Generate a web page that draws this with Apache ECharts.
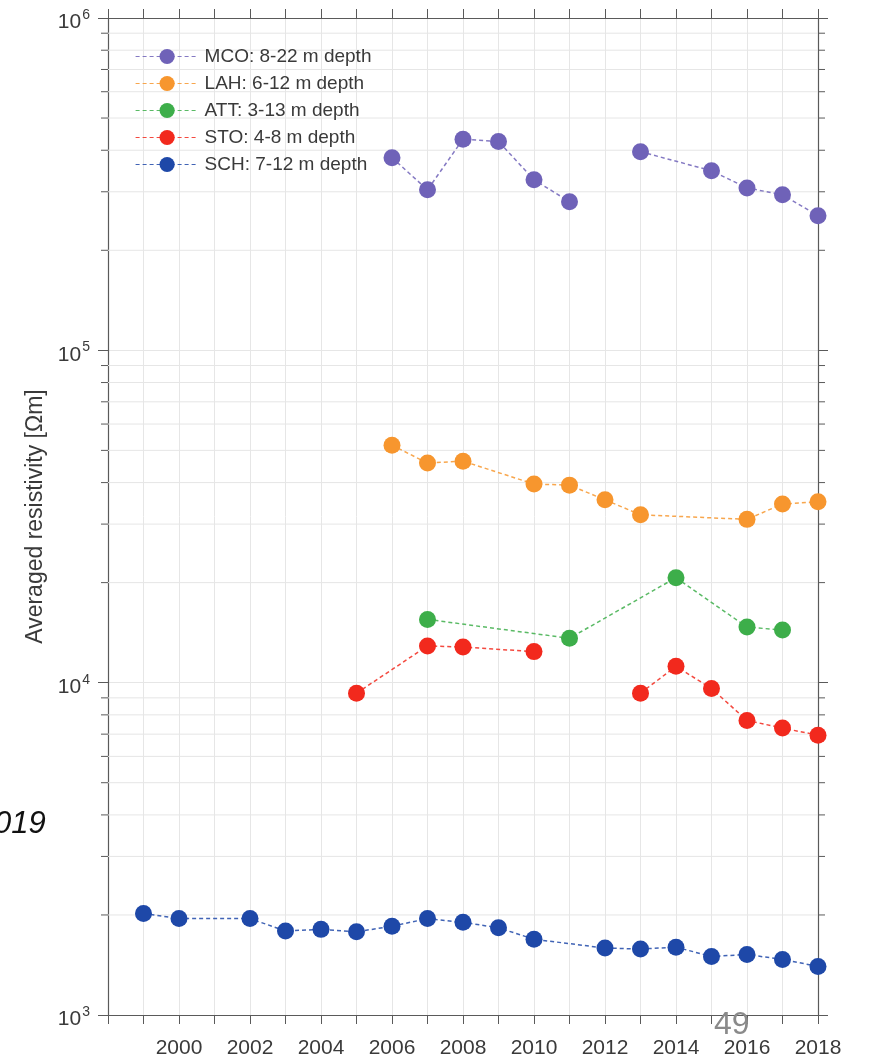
<!DOCTYPE html>
<html>
<head>
<meta charset="utf-8">
<script src="https://cdn.jsdelivr.net/npm/echarts@6/dist/echarts.min.js"></script>
<style>html,body{margin:0;padding:0;background:#fff}#c{width:869px;height:1059px}</style>
</head>
<body>
<div id="c"></div>
<script>
// ---- data ----
const mcoYears = [2006, 2007, 2008, 2009, 2010, 2011, 2012, 2013, 2015, 2016, 2017, 2018];
const mcoVals  = [380000, 304000, 432000, 425000, 326000, 280000, null, 396000, 347000, 308000, 294000, 254000];
const lahYears = [2006, 2007, 2008, 2010, 2011, 2012, 2013, 2016, 2017, 2018];
const lahVals  = [51800, 45800, 46400, 39600, 39300, 35500, 32000, 31000, 34500, 35000];
const attYears = [2007, 2011, 2014, 2016, 2017];
const attVals  = [15500, 13600, 20700, 14700, 14400];
const stoYears = [2005, 2007, 2008, 2010, 2011, 2013, 2014, 2015, 2016, 2017, 2018];
const stoVals  = [9300, 12900, 12800, 12400, null, 9300, 11200, 9600, 7700, 7300, 6950];
const schYears = [1999, 2000, 2002, 2003, 2004, 2005, 2006, 2007, 2008, 2009, 2010, 2012, 2013, 2014, 2015, 2016, 2017, 2018];
const schVals  = [2020, 1950, 1950, 1790, 1810, 1780, 1850, 1950, 1900, 1830, 1690, 1590, 1580, 1600, 1500, 1520, 1470, 1400];
const seriesNames = ['MCO: 8-22 m depth', 'LAH: 6-12 m depth', 'ATT: 3-13 m depth', 'STO: 4-8 m depth', 'SCH: 7-12 m depth'];
const yearMin = 1998, yearMax = 2018;
const yMin = 1000, yMax = 1000000;
const minorVals = [2000,3000,4000,5000,6000,7000,8000,9000,
                   20000,30000,40000,50000,60000,70000,80000,90000,
                   200000,300000,400000,500000,600000,700000,800000,900000];
const yTickLabels = {1000:'3', 10000:'4', 100000:'5', 1000000:'6'};

const colors = ['#6f62b8', '#f7962e', '#3dae4a', '#f2291d', '#1e48a8'];

function pairs(xs, vs){ return xs.map((x,i)=>[x, vs[i]===null ? '-' : vs[i]]); }

const chart = echarts.init(document.getElementById('c'), null, {renderer:'canvas'});
const axisColor = '#5a5a5a';
const labelColor = '#3a3a3a';
const font = 'Liberation Sans, Arial, sans-serif';

const dataSets = [pairs(mcoYears, mcoVals), pairs(lahYears, lahVals), pairs(attYears, attVals), pairs(stoYears, stoVals), pairs(schYears, schVals)];

const lineSeries = dataSets.map((d, i) => ({
  name: seriesNames[i],
  type: 'line',
  data: d,
  xAxisIndex: 0, yAxisIndex: 0,
  symbol: 'circle',
  symbolSize: 17,
  connectNulls: false,
  itemStyle: {color: colors[i]},
  lineStyle: {color: colors[i], width: 1.5, type: [4, 3], opacity: 0.85},
  z: 5 + i,
  animation: false
}));

const minorSeries = {
  type: 'custom',
  xAxisIndex: 0, yAxisIndex: 0,
  silent: true,
  z: 1,
  clip: false,
  data: minorVals.map(v => [yearMin, v]),
  encode: {x: 0, y: 1},
  renderItem: function(params, api){
    const v = api.value(1);
    const pL = api.coord([yearMin, v]);
    const pR = api.coord([yearMax, v]);
    return {
      type: 'group',
      children: [
        {type: 'line', shape: {x1: pL[0], y1: pL[1], x2: pR[0], y2: pR[1]}, style: {stroke: '#e6e6e6', lineWidth: 1}},
        {type: 'line', shape: {x1: pL[0]-7, y1: pL[1], x2: pL[0], y2: pL[1]}, style: {stroke: axisColor, lineWidth: 1}},
        {type: 'line', shape: {x1: pR[0], y1: pR[1], x2: pR[0]+7, y2: pR[1]}, style: {stroke: axisColor, lineWidth: 1}}
      ]
    };
  },
  animation: false
};

const option = {
  backgroundColor: '#ffffff',
  animation: false,
  grid: {left: 108, right: 51, top: 18, bottom: 43, containLabel: false},
  legend: {
    data: seriesNames,
    orient: 'vertical',
    left: 130, top: 42,
    itemWidth: 63, itemHeight: 19, itemGap: 8,
    lineStyle: {width: 1.2},
    textStyle: {fontSize: 19, color: '#3a3a3a', fontFamily: font, lineHeight: 19, padding: [0,0,0,1]}
  },
  xAxis: [{
    type: 'value', min: yearMin, max: yearMax, interval: 1, position: 'bottom',
    axisLine: {show: true, lineStyle: {color: axisColor, width: 1.2}},
    axisTick: {show: true, inside: false, length: 9, lineStyle: {color: axisColor}},
    axisLabel: {show: true, color: labelColor, fontSize: 21, fontFamily: font, margin: 23,
      formatter: v => (v >= 2000 && v % 2 === 0) ? String(v) : ''},
    splitLine: {show: true, lineStyle: {color: '#e6e6e6', width: 1}}
  }, {
    type: 'value', min: yearMin, max: yearMax, interval: 1, position: 'top',
    axisLine: {show: true, lineStyle: {color: axisColor, width: 1.2}},
    axisTick: {show: true, inside: false, length: 9, lineStyle: {color: axisColor}},
    axisLabel: {show: false},
    splitLine: {show: false}
  }],
  yAxis: [{
    type: 'log', logBase: 10, min: yMin, max: yMax, position: 'left',
    name: 'Averaged resistivity [Ωm]', nameLocation: 'middle', nameGap: 46, nameRotate: 90,
    nameTextStyle: {fontSize: 23, color: labelColor, fontFamily: font},
    axisLine: {show: true, lineStyle: {color: axisColor, width: 1.2}},
    axisTick: {show: true, inside: false, length: 10, lineStyle: {color: axisColor}},
    axisLabel: {show: true, margin: 18, fontFamily: font,
      formatter: v => yTickLabels[Math.round(v)] ? '{b|10}{s|' + yTickLabels[Math.round(v)] + '}' : '',
      rich: {
        b: {fontSize: 21, color: labelColor, fontFamily: font, verticalAlign: 'bottom', lineHeight: 30},
        s: {fontSize: 14, color: labelColor, fontFamily: font, verticalAlign: 'top', lineHeight: 30, padding: [5,0,0,1]}
      }
    },
    splitLine: {show: true, lineStyle: {color: '#e6e6e6', width: 1}}
  }, {
    type: 'log', logBase: 10, min: yMin, max: yMax, position: 'right',
    axisLine: {show: true, lineStyle: {color: axisColor, width: 1.2}},
    axisTick: {show: true, inside: false, length: 10, lineStyle: {color: axisColor}},
    axisLabel: {show: false},
    splitLine: {show: false}
  }],
  graphic: [
    {type: 'text', left: -6, top: 809, style: {text: '019', fontSize: 31, fontStyle: 'italic', fontFamily: 'Liberation Sans, sans-serif', fill: '#111'}},
    {type: 'text', left: 714, top: 1009, z: 100, style: {text: '49', fontSize: 32, fontFamily: 'Liberation Sans, sans-serif', fill: '#8a8a8a'}}
  ],
  series: [minorSeries].concat(lineSeries)
};
chart.setOption(option);
</script>
</body>
</html>
